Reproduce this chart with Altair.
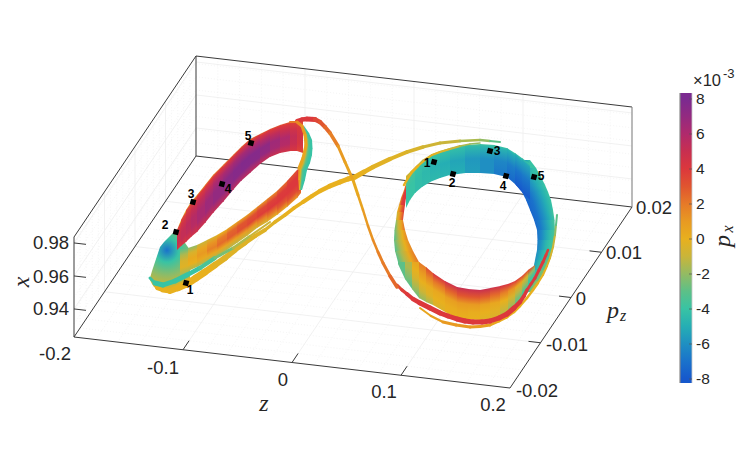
import altair as alt
import pandas as pd

# ---------- colour map ----------
PX_LEVELS = [-8, -7, -6, -5, -4, -3, -2, -1, 0, 1, 2, 3, 4, 5, 6, 7, 8]
PX_COLORS = ["#1658cc", "#1a72cb", "#1f8fc2", "#25aeb4", "#38c3a4", "#5cc088", "#93bb63", "#c9b53a",
             "#e8b01e", "#e89a22", "#e67a28", "#e0552f", "#dc383c", "#c82f50", "#b02a6c", "#932a80", "#7b2a90"]

# ---------- axes ----------
Z_TICKS = [-0.2, -0.1, 0, 0.1, 0.2]
PZ_TICKS = [-0.02, -0.01, 0, 0.01, 0.02]
X_TICKS = [0.94, 0.96, 0.98]
Z_MINOR = [-0.18, -0.16, -0.14, -0.12, -0.08, -0.06, -0.04, -0.02, 0.02, 0.04, 0.06, 0.08, 0.12, 0.14, 0.16, 0.18]
PZ_MINOR = [-0.018, -0.016, -0.014, -0.012, -0.008, -0.006, -0.004, -0.002, 0.002, 0.004, 0.006, 0.008, 0.012, 0.014, 0.016, 0.018]
X_MINOR = [0.931, 0.939, 0.947, 0.955, 0.963, 0.971, 0.979]
X_MIN, X_MAX = 0.923, 0.9836

Z_LABELS = ["-0.2", "-0.1", "0", "0.1", "0.2"]
Z_LABEL_U = [55, 163, 283, 384, 493]
Z_LABEL_V = [354, 368, 380, 392, 405]
PZ_LABELS = ["-0.02", "-0.01", "0", "0.01", "0.02"]
PZ_LABEL_U = [537, 567, 581, 624, 654]
PZ_LABEL_V = [391, 345, 299, 253, 208]
X_LABELS = ["0.94", "0.96", "0.98"]
X_LABEL_U = [51, 51, 51]
X_LABEL_V = [309, 277, 243]

CB_TICKS = [8, 6, 4, 2, 0, -2, -4, -6, -8]
CB_LABELS = ["8", "6", "4", "2", "0", "-2", "-4", "-6", "-8"]

# ---------- left ring, upper band (outer edge to inner edge) ----------
LU_S = [177, 181, 186, 191, 197, 205, 213, 223, 233, 241, 250, 260, 270, 280, 290, 297, 303]
LU_A = [230, 220, 210, 202, 195, 185, 175, 165, 155, 147, 139, 134, 129, 125, 122, 121, 120]
LU_B = [250, 246, 242, 237, 232, 223, 213, 202, 190, 181, 173, 164, 157, 153, 151, 151, 153]
LU_OFF = [0, 0.06, 0.25, 0.5, 0.75, 1]
LU_PX = [[1, 3.5, 4.5, 5, 5, 4], [1, 3.5, 4.6, 5.2, 5.2, 4.2], [1, 3.7, 4.8, 5.5, 5.4, 4.4], [1.2, 3.8, 5, 5.8, 5.7, 4.6],
         [1.5, 4, 5.3, 6.2, 6.2, 4.8], [1.8, 4, 5.6, 6.7, 6.6, 5], [2, 4.2, 6, 7, 7, 5.2], [2.2, 4.2, 6.2, 7.4, 7.3, 5.4],
         [2.4, 4.4, 6.4, 7.6, 7.5, 5.6], [2.5, 4.4, 6.4, 7.7, 7.6, 5.6], [2.8, 4.3, 6.2, 7.6, 7.5, 5.5], [3, 4.2, 5.8, 7.2, 7, 5.2],
         [3, 4.1, 5.4, 6.6, 6.4, 5], [3, 4, 5, 6, 5.8, 4.6], [3, 3.8, 4.6, 5.2, 5, 4.2], [3, 3.5, 4.2, 4.5, 4.3, 3.6]]

# ---------- left ring, lower band ----------
LL_S = [180, 188, 197, 207, 217, 227, 237, 247, 257, 267, 277, 287, 297, 301]
LL_A = [249, 248, 245, 240, 235, 229, 222, 215, 207, 199, 191, 181, 170, 168]
LL_B = [275, 271, 267, 262, 257, 250, 243, 236, 228, 222, 215, 207, 198, 193]
LL_PX = [[-3, -1.5, -0.5, -0.3, -1.5], [-2, -0.5, 0.3, 0, -1.5], [-1, 0.5, 1, 0.3, -1.5], [-0.5, 1.2, 1.8, 0.4, -1.5],
         [0, 2, 2.4, 0.5, -1.5], [0.5, 2.6, 2.8, 0.7, -1.3], [0.8, 3, 3.2, 0.9, -1.1], [1, 3.2, 3.5, 1.2, -0.9],
         [1.3, 3.5, 3.8, 1.7, -0.6], [1.7, 3.7, 4, 2.2, -0.2], [2.4, 3.9, 4, 2.8, 0.4], [3.2, 4, 4, 3.3, 1.2], [4, 4, 4, 3.6, 2]]

# ---------- left ring, turning blob ----------
BLOB_S = [150, 152, 154, 157, 160, 164, 168, 172, 176, 183, 190]
BLOB_A = [278, 271, 265, 256, 247, 242, 238, 234, 231, 240, 250]
BLOB_B = [280, 284, 287, 289, 290, 291, 291, 289, 287, 285, 283]
BLOB_PX = [-7, -4, -2, 0]

# ---------- left ring, right end strip (split by height) ----------
LS_S = [126, 133, 140, 148, 155, 163, 170, 180, 190]
LS_A = [302, 304, 305, 304.5, 303, 301, 298, 298, 299]
LS_B = [304, 309, 312, 312.5, 312, 310, 307, 305, 302]
LS_PX = [[1, -1, -3, -4, -4], [1, -1, -3, -4, -4], [1, -1, -3, -4, -4], [1, -1, -3, -4, -4],
         [1, -1, -3, -4, -4], [1, -0.5, -3, -4, -4], [2, 0, -3, -4, -4], [2, 0, -3, -4, -4]]

# ---------- right ring, top arc ----------
RT_S = [406, 410, 415, 422, 430, 440, 450, 465, 480, 494, 507, 515, 522, 530]
RT_A = [176, 172, 167, 160, 155, 151, 148, 145, 144, 145, 148, 153, 158, 164]
RT_B = [208, 200, 193, 187, 182, 178, 175, 173, 173, 174, 177, 184, 192, 200]
RT_OFF = [0, 0.08, 0.5, 1]
RT_PX = [[0, -3, -4, -4], [-0.3, -3.5, -4, -4], [-0.5, -4, -4.3, -4.3], [-1, -4, -4.5, -4.4], [-1.5, -4, -4.8, -4.5],
         [-2, -4.2, -5, -4.7], [-3, -4.3, -5.3, -5], [-3.5, -4.5, -5.7, -5.5], [-3.8, -4.6, -6, -6], [-4, -4.8, -6.3, -6.8],
         [-4, -5, -6.6, -7.4], [-4, -5.2, -6.9, -8], [-4, -5.2, -6.8, -8]]

# ---------- right ring, right side (split by height) ----------
RR_S = [160, 168, 177, 185, 192, 200, 210, 220, 230, 240, 250, 260, 270, 281, 292]
RR_A = [524, 517, 510, 516, 522, 526, 530, 534, 537, 537.5, 537, 535, 533, 530, 527]
RR_B = [530, 536, 541, 545, 548, 551, 553, 554.5, 555, 554.5, 553, 550, 545, 539, 532]
RR_PX = [[-8, -6.5, -5, -4, -4], [-8, -6.8, -5.5, -4.3, -4], [-8, -7, -6, -5, -4], [-7.8, -7, -6, -5, -4],
         [-7.6, -7, -6, -5, -4], [-7.5, -7, -6, -5, -4], [-7.5, -7, -6, -5, -3.8], [-7.3, -6.7, -5.7, -4.7, -3.6],
         [-7, -6.2, -5.2, -4.3, -3.5], [-6.6, -5.7, -4.7, -4, -3.4], [-6, -5.2, -4.3, -3.7, -3.2],
         [-5.5, -4.7, -3.8, -3.2, -2.6], [-5, -4.2, -3.2, -2.7, -2.2], [-4.5, -3.8, -2.8, -2.2, -2]]

# ---------- right ring, left side (split by height) ----------
RL_S = [180, 190, 198, 205, 212, 220, 230, 240, 251, 262]
RL_A = [407, 404, 401, 399, 397, 396, 394.5, 394, 395, 398]
RL_B = [408, 408, 406, 405, 404, 403, 405, 408, 413, 419]
RL_PX = [[2, 4, 4, 4], [1.5, 4, 4, 4], [1, 3.5, 4, 4], [0, 1.5, 3, 4], [-1, 0.5, 2, 3.5],
         [-2.5, -1, 0.5, 2], [-3, -1.5, 0, 1.5], [-3, -1.5, 0, 1.5], [-3, -1.5, 0.3, 2]]

# ---------- right ring, bottom ----------
RB_S = [398, 405, 412, 419, 426, 433, 445, 457, 468, 480, 490, 500, 508, 515, 522, 528, 535]
RB_A = [262, 262, 262, 262, 267, 273, 281, 287, 289, 290, 288, 286, 284, 281, 276, 270, 265]
RB_B = [264, 279, 289, 298, 302, 305, 312, 318, 319.5, 320, 319.5, 318, 314, 308, 300, 292, 280]
RB_PX = [[-3, -3, -3, -3, -3], [-1.5, -1.5, -2, -2.5, -3], [0.5, 0, -0.5, -1.5, -2.5], [2, 1, 0, -0.8, -2],
         [3.2, 1.6, 0.2, -0.3, -1.5], [4.2, 2, 0.4, 0, -0.5], [4.7, 2.6, 0.8, 0.2, 0], [5, 3, 1, 0.3, 0],
         [5, 3, 1, 0.2, 0], [5, 2.8, 0.7, 0, -0.3], [4.7, 2.4, 0.4, -0.2, -0.5], [4.3, 1.8, 0, -0.8, -1.5],
         [4, 1.2, -0.5, -1.5, -2.5], [3.7, 0.5, -1.2, -2.5, -3.5], [3.4, -0.5, -2, -3.5, -4], [3, -2, -3.5, -4, -4]]

# ---------- thin strands ----------
BACK_U = [420, 431, 443, 456, 470, 480, 490, 499, 507, 514, 520, 527, 533, 538, 543, 547, 550, 553, 555, 556, 557]
BACK_V = [308, 316, 322, 325, 327, 326.5, 325, 321, 317, 312, 306, 298, 290, 283, 275, 266, 258, 247, 235, 225, 215]
BACK_PX = [0.5, 0.8, 1, 1, 1, 0.8, 0.5, 0.2, 0, 0, 0, 0, 0, 0, 0, -0.3, -0.5, -1, -2, -3, -4]
BACK_W = [2, 2.5, 3, 3, 3, 3, 3, 3, 2.5, 2.5, 2.5, 2.5, 2.5, 2, 2, 2, 2, 2, 2, 2, 2]

TOP_U = [297, 302, 307, 315, 320, 325, 330, 338, 345, 353, 358, 363, 368, 373, 378, 383, 390, 397]
TOP_V = [121, 119.5, 119, 119.5, 122, 127, 133, 146, 162, 180, 195, 210, 226, 240, 252, 263, 276, 287]
TOP_PX = [4, 4, 4, 3.5, 3, 2.5, 1.8, 1, 0.6, 0.3, 0.6, 1, 1.2, 1.5, 1.8, 2, 2.5, 3]
TOP_W = [4, 4.5, 5, 4.5, 4, 4, 3.5, 3, 3, 3, 2.5, 2.5, 2.5, 2.5, 3, 3, 3.5, 3.5]

RED_U = [397, 402, 407, 413, 420, 430, 440, 448, 457, 465, 473, 482, 490, 499, 507, 514, 520, 524, 527, 531, 535, 539, 543, 546, 548]
RED_V = [285, 290, 294, 299, 303, 308, 313, 316, 319, 321, 322, 322, 321, 318, 314, 308, 302, 296, 290, 284, 278, 270, 262, 255, 250]
RED_PX = [3.5, 3.8, 4, 4, 4, 4, 4, 4, 4, 4, 4, 4, 4, 4, 4, 4, 4, 4, 4, 4, 4, 4, 4, 3.8, 3.5]
RED_W = [3, 3.5, 4, 4.5, 5, 5, 5, 5, 5, 5, 5, 5, 5, 5, 5, 4.5, 4, 3.5, 3, 3, 3, 3, 3, 2.5, 2]

CROSS_U = [157, 163, 170, 178, 187, 196, 205, 215, 225, 235, 245, 255, 265, 275, 285, 294, 303, 312, 320, 330, 340, 348, 355, 364, 373, 390, 407, 423, 440, 460, 480, 490, 500]
CROSS_V = [288, 290, 291, 288, 284, 278, 272, 265, 258, 250, 243, 236, 230, 222, 215, 208, 202, 196, 191, 186, 182, 179, 177, 172, 167, 159, 152, 147, 143, 141, 140, 141, 142]
CROSS_PX = [0, 0, 0, 0, 0, 0, 0, -0.2, -0.3, -0.3, -0.3, -0.3, -0.3, -0.2, 0, 0, 0, 0, 0, 0, 0, 0, 0, -0.1, -0.2, -0.3, -0.5, -0.8, -1, -1.5, -2, -3, -4]
CROSS_W = [4, 5, 6, 6.5, 7, 7, 6.5, 6, 5.5, 5, 4.5, 4, 3.5, 3.5, 3.5, 3.5, 4, 4, 4.5, 5, 5, 5, 5, 4.5, 4.5, 4, 3.5, 3, 3, 2.5, 2.5, 2, 2]

TEAL_U = [150, 155, 163, 175, 187, 200, 215, 233, 250, 270]
TEAL_V = [278, 283, 285, 281, 275, 268, 258, 248, 236, 222]
TEAL_PX = [-4, -4, -4, -4, -4, -3.5, -2.5, -1.5, -1, -0.5]
TEAL_W = [3, 5, 5, 5, 4.5, 4, 3, 2.5, 2, 2]

RIM_L_U = [290, 297, 302, 305, 306, 303, 299]
RIM_L_V = [122, 122, 126, 135, 145, 158, 168]
RIM_L_PX = [2, 1.5, 1, 0.5, 0.5, 0.5, 1]
RIM_L_W = [2, 3, 3, 3, 3, 3, 2]

RIM_R_U = [404, 408, 412, 418, 425, 432, 440, 450, 460, 470, 480]
RIM_R_V = [185, 178, 172, 166, 160, 155, 152, 149, 146, 144, 143]
RIM_R_PX = [0, 0, 0, 0, 0, -0.2, -0.5, -1, -1.5, -2, -3]
RIM_R_W = [2.5, 2.5, 2.5, 2, 2, 2, 2, 2, 1.5, 1.5, 1.5]

# ---------- numbered points ----------
MARK_U = [186, 176, 193, 222, 251, 434, 453, 490, 506, 534]
MARK_V = [283, 232, 202, 184, 143, 162, 174, 151, 176, 177]
MARK_TEXT = ["1", "2", "3", "4", "5", "1", "2", "3", "4", "5"]
MARK_TU = [190, 165, 191, 228, 248, 427, 452, 497, 503, 541]
MARK_TV = [290, 225, 194, 189, 136, 163, 183, 151, 186, 176]

# ---------- picture frame ----------
U_DOMAIN = [8, 739]
V_DOMAIN = [468, 8]
su = alt.Scale(domain=U_DOMAIN)
sv = alt.Scale(domain=V_DOMAIN)
FONT = "Liberation Sans"
MATH = "Liberation Serif"
TEXT_C = "#262626"
OVERLAP = 0.6


def project(z, pz, x=X_MIN):
    return (74 + (z + 0.2) * 1090 + (pz + 0.02) * 3050,
            337 + (z + 0.2) * 127.5 - (pz + 0.02) * 4525 - (x - X_MIN) * 1650)


def cmap(v):
    v = max(-8.0, min(8.0, v))
    i = min(int(v + 8), 15)
    t = v + 8 - i
    a, b = PX_COLORS[i], PX_COLORS[i + 1]
    rgb = [round(int(a[k:k + 2], 16) * (1 - t) + int(b[k:k + 2], 16) * t) for k in (1, 3, 5)]
    return "#%02x%02x%02x" % tuple(rgb)


def band(s, a, b, rows, horizontal=False, offsets=None):
    out = []
    for i, row in enumerate(rows):
        s0, s1 = s[i], s[i + 1]
        a0, a1, b0, b1 = a[i], a[i + 1], b[i], b[i + 1]
        if i + 1 < len(rows):
            # continue both edges a hair further so neighbouring pieces leave no seam
            f = 1 + OVERLAP / (s1 - s0)
            a1, b1, s1 = a0 + (a1 - a0) * f, b0 + (b1 - b0) * f, s0 + (s1 - s0) * f
        ds, dt = s1 - s0, (a1 + b1 - a0 - b0) / 2
        tmin, tmax = min(a0, a1, b0, b1), max(a0, a1, b0, b1)
        ws, wt = ds, max(tmax - tmin, 0.5)
        ma, mb = (a0 + a1) / 2, (b0 + b1) / 2
        if horizontal:
            dx, dy = dt / wt, ds / ws
            A, B = ((ma - tmin) / wt, 0.5), ((mb - tmin) / wt, 0.5)
        else:
            dx, dy = ds / ws, dt / wt
            A, B = (0.5, (ma - tmin) / wt), (0.5, (mb - tmin) / wt)
        nx, ny = -dy, dx
        k = ((B[0] - A[0]) * nx + (B[1] - A[1]) * ny) / (nx * nx + ny * ny)
        off = offsets or [j / (len(row) - 1) for j in range(len(row))]
        grad = alt.LinearGradient(
            gradient="linear", x1=A[0], y1=A[1], x2=A[0] + k * nx, y2=A[1] + k * ny,
            stops=[alt.GradientStop(color=cmap(v), offset=o) for v, o in zip(row, off)])
        df = pd.DataFrame({"s": [s0, s1], "a": [a0, a1], "b": [b0, b1]})
        if horizontal:
            out.append(alt.Chart(df).mark_area(orient="horizontal", color=grad).encode(
                y=alt.Y("s:Q", scale=sv, axis=None),
                x=alt.X("a:Q", scale=su, axis=None), x2="b:Q"))
        else:
            out.append(alt.Chart(df).mark_area(orient="vertical", color=grad).encode(
                x=alt.X("s:Q", scale=su, axis=None),
                y=alt.Y("a:Q", scale=sv, axis=None), y2="b:Q"))
    return out


def strand(u, v, px, w):
    df = pd.DataFrame({"u": u[:-1], "u2": u[1:], "v": v[:-1], "v2": v[1:], "px": px[:-1], "w": w[:-1]})
    return alt.Chart(df).mark_rule(strokeCap="round").encode(
        x=alt.X("u:Q", scale=su, axis=None), x2="u2:Q",
        y=alt.Y("v:Q", scale=sv, axis=None), y2="v2:Q",
        color=alt.Color("px:Q", scale=alt.Scale(domain=PX_LEVELS, range=PX_COLORS), legend=None),
        strokeWidth=alt.StrokeWidth("w:Q", scale=None))


def lines(rows, color, width, dash=None):
    df = pd.DataFrame(rows, columns=["u", "v", "u2", "v2"])
    kw = {"strokeDash": dash} if dash else {}
    return alt.Chart(df).mark_rule(color=color, strokeWidth=width, **kw).encode(
        x=alt.X("u:Q", scale=su, axis=None), x2="u2:Q",
        y=alt.Y("v:Q", scale=sv, axis=None), y2="v2:Q")


def texts(u, v, t, font=FONT, size=18.5, align="center", color=TEXT_C, **kw):
    df = pd.DataFrame({"u": u, "v": v, "t": t})
    return alt.Chart(df).mark_text(font=font, fontSize=size, align=align, baseline="middle", color=color, **kw).encode(
        x=alt.X("u:Q", scale=su, axis=None), y=alt.Y("v:Q", scale=sv, axis=None), text="t:N")


# ---------- grid ----------
zmin, zmax, pmin, pmax = Z_TICKS[0], Z_TICKS[-1], PZ_TICKS[0], PZ_TICKS[-1]


def z_lines(vals):
    r = []
    for z in vals:
        r.append((*project(z, pmin), *project(z, pmax)))
        r.append((*project(z, pmax), *project(z, pmax, X_MAX)))
    return r


def p_lines(vals):
    r = []
    for p in vals:
        r.append((*project(zmin, p), *project(zmax, p)))
        r.append((*project(zmin, p), *project(zmin, p, X_MAX)))
    return r


def x_lines(vals):
    r = []
    for x in vals:
        r.append((*project(zmin, pmin, x), *project(zmin, pmax, x)))
        r.append((*project(zmin, pmax, x), *project(zmax, pmax, x)))
    return r


layers = [
    lines(z_lines(Z_MINOR) + p_lines(PZ_MINOR) + x_lines(X_MINOR), "#f0f0f0", 0.7, [1, 2]),
    lines(z_lines(Z_TICKS[1:-1]) + p_lines(PZ_TICKS[1:-1]) + x_lines(X_TICKS), "#eeeeee", 0.8),
]

# ---------- box and ticks ----------
box = [
    (*project(zmin, pmin), *project(zmax, pmin)),
    (*project(zmax, pmin), *project(zmax, pmax)),
    (*project(zmin, pmin), *project(zmin, pmax)),
    (*project(zmin, pmax), *project(zmax, pmax)),
    (*project(zmin, pmax), *project(zmin, pmax, X_MAX)),
    (*project(zmin, pmax, X_MAX), *project(zmax, pmax, X_MAX)),
    (*project(zmin, pmin, X_MAX), *project(zmin, pmax, X_MAX)),
    (*project(zmin, pmin), *project(zmin, pmin, X_MAX)),
]
ticks = []
for z in Z_TICKS[1:-1]:
    ticks.append((*project(z, pmin), *project(z, pmin + 0.002)))
for p in PZ_TICKS[1:-1]:
    ticks.append((*project(zmax, p), *project(zmax - 0.011, p)))
for x in X_TICKS:
    ticks.append((*project(zmin, pmin, x), *project(zmin + 0.011, pmin, x)))
layers += [
    lines(box, "#3a3a3a", 1.0),
    lines(ticks, "#3a3a3a", 1.0),
    lines([(*project(zmax, pmax), *project(zmax, pmax, X_MAX))], "#8c8c8c", 1.2),
]

# ---------- right ring ----------
layers += band(RR_S, RR_A, RR_B, RR_PX, horizontal=True)
layers += band(RL_S, RL_A, RL_B, RL_PX, horizontal=True)
layers += band(RB_S, RB_A, RB_B, RB_PX)
layers += band(RT_S, RT_A, RT_B, RT_PX, offsets=RT_OFF)
layers += [strand(BACK_U, BACK_V, BACK_PX, BACK_W), strand(RED_U, RED_V, RED_PX, RED_W),
           strand(RIM_R_U, RIM_R_V, RIM_R_PX, RIM_R_W)]

# ---------- left ring ----------
blob_grad = alt.RadialGradient(
    gradient="radial", x1=0.45, y1=0.32, x2=0.45, y2=0.32, r1=0, r2=0.9,
    stops=[alt.GradientStop(color=cmap(BLOB_PX[0]), offset=0), alt.GradientStop(color=cmap(BLOB_PX[1]), offset=0.22),
           alt.GradientStop(color=cmap(BLOB_PX[2]), offset=0.48), alt.GradientStop(color=cmap(BLOB_PX[3]), offset=0.75)])
layers.append(alt.Chart(pd.DataFrame({"s": BLOB_S, "a": BLOB_A, "b": BLOB_B})).mark_area(color=blob_grad).encode(
    x=alt.X("s:Q", scale=su, axis=None), y=alt.Y("a:Q", scale=sv, axis=None), y2="b:Q"))
layers += band(LL_S, LL_A, LL_B, LL_PX)
layers += band(LU_S, LU_A, LU_B, LU_PX, offsets=LU_OFF)
layers += band(LS_S, LS_A, LS_B, LS_PX, horizontal=True)
layers += [strand(CROSS_U, CROSS_V, CROSS_PX, CROSS_W), strand(TEAL_U, TEAL_V, TEAL_PX, TEAL_W),
           strand(TOP_U, TOP_V, TOP_PX, TOP_W), strand(RIM_L_U, RIM_L_V, RIM_L_PX, RIM_L_W)]

# ---------- numbered points ----------
layers.append(alt.Chart(pd.DataFrame({"u": MARK_U, "v": MARK_V})).mark_point(
    shape="square", filled=True, color="black", size=30, opacity=1, angle=15).encode(
    x=alt.X("u:Q", scale=su, axis=None), y=alt.Y("v:Q", scale=sv, axis=None)))
layers.append(texts(MARK_TU, MARK_TV, MARK_TEXT, size=12, color="black", fontWeight="bold"))

# ---------- axis labels ----------
layers += [
    texts(Z_LABEL_U, Z_LABEL_V, Z_LABELS),
    texts(PZ_LABEL_U, PZ_LABEL_V, PZ_LABELS),
    texts(X_LABEL_U, X_LABEL_V, X_LABELS),
    texts([264], [404], ["z"], font=MATH, size=24, fontStyle="italic"),
    texts([22], [282], ["x"], font=MATH, size=24, fontStyle="italic", angle=270),
    texts([613], [311], ["p"], font=MATH, size=24, fontStyle="italic"),
    texts([623], [316], ["z"], font=MATH, size=16, fontStyle="italic"),
]

# ---------- colour bar ----------
CB_LEFT, CB_RIGHT, CB_TOP, CB_BOTTOM = 680, 692, 93, 383


def cb_v(p):
    return 239 - p * 17.5


cb_stops = [alt.GradientStop(color=cmap(p), offset=(cb_v(p) - CB_TOP) / (CB_BOTTOM - CB_TOP)) for p in PX_LEVELS[::-1]]
cb_grad = alt.LinearGradient(gradient="linear", x1=0, y1=0, x2=0, y2=1, stops=cb_stops)
layers.append(alt.Chart(pd.DataFrame({"u": [CB_LEFT], "u2": [CB_RIGHT], "v": [CB_TOP], "v2": [CB_BOTTOM]})).mark_rect(color=cb_grad).encode(
    x=alt.X("u:Q", scale=su, axis=None), x2="u2:Q", y=alt.Y("v:Q", scale=sv, axis=None), y2="v2:Q"))
layers += [
    lines([(CB_LEFT, CB_TOP, CB_LEFT, CB_BOTTOM)], "#8a8a8a", 1.2),
    lines([(CB_RIGHT, CB_TOP, CB_RIGHT, CB_BOTTOM)], "#c9c9c9", 0.8),
    lines([(CB_RIGHT - 3, cb_v(p), CB_RIGHT, cb_v(p)) for p in CB_TICKS], "#555555", 0.7),
    texts([696] * len(CB_TICKS), [cb_v(p) for p in CB_TICKS], CB_LABELS, size=15.5, align="left"),
    texts([693], [80.5], ["×10"], size=16.5, align="left"),
    texts([723], [74], ["-3"], size=13, align="left"),
    texts([723], [241], ["p"], font=MATH, size=24, fontStyle="italic", angle=270),
    texts([728], [229], ["x"], font=MATH, size=16, fontStyle="italic", angle=270),
]

chart = alt.layer(*layers).properties(width=731, height=460, padding=0, autosize="none").configure_view(stroke=None)
chart.save("out.html", embed_options={"renderer": "svg", "actions": False})
